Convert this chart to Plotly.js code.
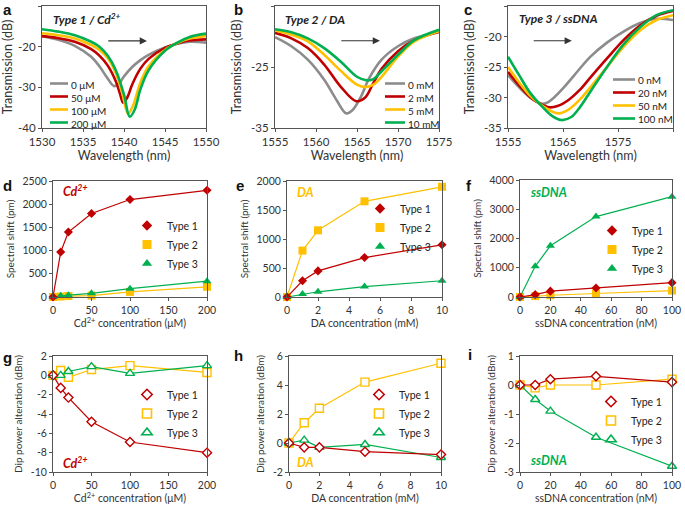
<!DOCTYPE html>
<html><head><meta charset="utf-8">
<script src="https://cdn.plot.ly/plotly-3.0.1.min.js"></script>
<style>html,body{margin:0;padding:0;background:#fff}#chart{width:685px;height:508px}</style>
</head><body><div id="chart"></div>
<script>
// ---------- Panel a: Type 1 / Cd2+ spectra ----------
const aLabels = ['0 μM', '50 μM', '100 μM', '200 μM'];
const aX0 = [1530,1532,1534,1536,1537,1538,1538.8,1539.5,1540,1541,1542,1543,1545,1546.5,1548,1550];
const aY0 = [-17.4,-18.3,-19.8,-22.5,-24.8,-27.8,-29.7,-28.8,-27.3,-25,-23.3,-22,-20.2,-19.3,-18.8,-19.0];
const aX1 = [1530,1532,1534,1536,1537,1538,1539,1539.5,1539.9,1540.4,1541,1542,1543,1545,1546.5,1548,1550];
const aY1 = [-17.4,-17.9,-18.8,-20.6,-22.2,-24.6,-28.5,-31.5,-33.8,-32.5,-29.3,-25.4,-23,-20.3,-19.2,-18.5,-18.2];
const aX2 = [1530,1532,1534,1536,1537,1538,1539,1539.8,1540.5,1541.1,1542,1543,1545,1546.5,1548,1550];
const aY2 = [-16.7,-17.2,-18,-19.6,-20.8,-22.8,-26.5,-31.5,-36.5,-34.5,-28.8,-24.8,-20.8,-19.1,-18,-17.4];
const aX3 = [1530,1532,1534,1536,1537,1538,1539,1540,1540.7,1541.3,1542,1543,1545,1546.5,1548,1550];
const aY3 = [-15.7,-16.3,-17.2,-18.8,-20,-22.2,-25.8,-31.8,-37.2,-35.5,-30.5,-25.8,-21,-19,-17.6,-16.8];

// ---------- Panel b: Type 2 / DA spectra ----------
const bLabels = ['0 mM', '2 mM', '5 mM', '10 mM'];
const bX0 = [1555,1557,1559,1561,1562.5,1563.7,1564.5,1565.5,1566.5,1568,1570,1572,1575];
const bY0 = [-20.1,-21.6,-23.8,-27.1,-30.4,-32.6,-32,-29.8,-26.8,-23.8,-21.6,-20.3,-19.3];
const bX1 = [1555,1557,1559,1561,1563,1564.9,1566,1567,1568,1570,1572,1575];
const bY1 = [-19.4,-20.3,-21.9,-24.6,-28.2,-30.6,-30,-27.6,-25.3,-22.4,-20.6,-19.2];
const bX2 = [1555,1557,1559,1561,1563,1565,1566,1567,1568,1570,1572,1575];
const bY2 = [-19,-19.7,-20.8,-23,-25.6,-27.9,-28.3,-27.9,-26.6,-23.3,-20.8,-19.1];
const bX3 = [1555,1557,1559,1561,1563,1565,1566.2,1567,1568,1570,1572,1575];
const bY3 = [-18.8,-19.3,-20.3,-21.9,-24.1,-26.6,-27.2,-27,-25.7,-23,-20.6,-18.9];

// ---------- Panel c: Type 3 / ssDNA spectra ----------
const cLabels = ['0 nM', '20 nM', '50 nM', '100 nM'];
const cX0 = [1555,1557,1559,1561,1562,1563,1565,1567,1570,1573,1576,1579,1582,1585];
const cY0 = [-26.3,-28.3,-30,-31,-30.9,-30.3,-28.5,-26.4,-23.3,-21,-19.2,-17.8,-17.1,-17.3];
const cX1 = [1555,1557,1559,1561,1562.5,1564,1566,1568,1570,1573,1576,1579,1582,1585];
const cY1 = [-25.8,-28,-29.9,-31.1,-31.6,-31.4,-30.4,-28.8,-26.7,-23.6,-20.6,-18.2,-16.6,-15.8];
const cX2 = [1555,1557,1559,1561,1563,1564.3,1566,1568,1570,1573,1576,1579,1582,1585];
const cY2 = [-25,-27.5,-29.7,-31.2,-32.3,-32.6,-32,-30.4,-28.3,-25,-21.7,-19,-17.3,-16.5];
const cX3 = [1555,1557,1559,1561,1563,1564.8,1566.5,1568,1570,1573,1576,1579,1582,1585];
const cY3 = [-23.3,-26.3,-29.2,-31.3,-33,-33.7,-33.2,-31.7,-29,-25,-21.3,-18.5,-16.5,-15.7];

// ---------- Panels d-i: concentrations ----------
const typeNames = ['Type 1', 'Type 2', 'Type 3'];
const cdConc = [0, 10, 20, 50, 100, 200];
const daConc = [0, 1, 2, 5, 10];
const dnaConc = [0, 10, 20, 50, 100];

// spectral shift (pm)
const dShift1 = [0, 970, 1400, 1800, 2100, 2300];
const dShift2 = [0, 10, 20, 30, 110, 220];
const dShift3 = [0, 25, 40, 80, 180, 340];
const eShift1 = [0, 280, 450, 680, 900];
const eShift2 = [0, 800, 1150, 1650, 1900];
const eShift3 = [0, 50, 90, 180, 280];
const fShift1 = [0, 80, 200, 310, 490];
const fShift2 = [0, 30, 60, 120, 220];
const fShift3 = [0, 1050, 1750, 2750, 3430];

// dip power alteration (dBm)
const gDip1 = [0, -1.3, -2.3, -4.8, -6.9, -8.0];
const gDip2 = [0, 0.5, -0.2, 0.6, 1.0, 0.3];
const gDip3 = [0, 0, 0.4, 0.9, 0.2, 1.0];
const hDip1 = [0, -0.3, -0.3, -0.6, -0.8];
const hDip2 = [0, 1.4, 2.4, 4.2, 5.5];
const hDip3 = [0, 0.2, -0.3, -0.1, -1.0];
const iDip1 = [0, 0, 0.2, 0.3, 0.1];
const iDip2 = [0, -0.1, 0, 0, 0.2];
const iDip3 = [0, -0.5, -0.9, -1.8, -2.8];

// ---------- styling ----------
const FONT = 'Lato, "Open Sans", sans-serif';
const specColors = ['#8C8C8C', '#C00000', '#FFC000', '#00B050'];
const typeColors = ['#C00000', '#FFC000', '#00B050'];
const typeSymbols = ['diamond', 'square', 'triangle-up'];
const typeSizes = [7, 8, 8];
const W = 685, H = 508;

// plot rectangles in pixels [left, right, top, bottom]
const boxes = {
  a: [42, 206, 6, 128], b: [275, 439, 6, 128], c: [508, 673, 6, 128],
  d: [53, 207, 181, 297], e: [287, 442, 181, 297], f: [520, 672, 180, 297],
  g: [53, 207, 356, 472], h: [289, 441, 356, 472], i: [520, 672, 356, 472]
};
const keys = ['a','b','c','d','e','f','g','h','i'];
const sfx = n => (n === 1 ? '' : String(n));
const xid = n => 'x' + sfx(n);
const yid = n => 'y' + sfx(n);

const traces = [];
const layout = {
  width: W, height: H, margin: {l: 0, r: 0, t: 0, b: 0},
  paper_bgcolor: '#fff', plot_bgcolor: '#fff',
  font: {family: FONT, size: 11, color: '#222'},
  showlegend: true, annotations: [], shapes: []
};

const axisSpec = {
  a: {x: [1530, 1550, 5], y: [-40, -10, 10], xt: 'Wavelength (nm)', yt: 'Transmission (dB)'},
  b: {x: [1555, 1575, 5], y: [-35, -15, 10], xt: 'Wavelength (nm)', yt: 'Transmission (dB)'},
  c: {x: [1555, 1585, 10], y: [-35, -15, 5], xt: 'Wavelength (nm)', yt: 'Transmission (dB)'},
  d: {x: [0, 200, 50], y: [0, 2500, 500], xt: 'Cd<sup>2+</sup> concentration (μM)', yt: 'Spectral shift (pm)'},
  e: {x: [0, 10, 2], y: [0, 2000, 500], xt: 'DA concentration (mM)', yt: 'Spectral shift (pm)'},
  f: {x: [0, 100, 20], y: [0, 4000, 1000], xt: 'ssDNA concentration (nM)', yt: 'Spectral shift (pm)'},
  g: {x: [0, 200, 50], y: [-10, 2, 2], xt: 'Cd<sup>2+</sup> concentration (μM)', yt: 'Dip power alteration (dBm)'},
  h: {x: [0, 10, 2], y: [-2, 6, 2], xt: 'DA concentration (mM)', yt: 'Dip power alteration (dBm)'},
  i: {x: [0, 100, 20], y: [-3, 1, 1], xt: 'ssDNA concentration (nM)', yt: 'Dip power alteration (dBm)'}
};

function tickList(lo, hi, step) {
  const v = [], t = [];
  for (let k = lo; k <= hi + 1e-9; k += step) { v.push(k); t.push(String(k)); }
  return {v, t};
}

keys.forEach((k, idx) => {
  const n = idx + 1;
  const bx = boxes[k], s = axisSpec[k];
  const top = idx < 3;
  const xtk = tickList(s.x[0], s.x[1], s.x[2]);
  const ytk = tickList(s.y[0], s.y[1], s.y[2]);
  const common = {showline: true, mirror: true, linecolor: '#555', linewidth: 1, showgrid: false,
    zeroline: false, ticks: 'outside', ticklen: 3, tickcolor: '#555', fixedrange: true};
  layout['xaxis' + sfx(n)] = Object.assign({}, common, {
    domain: [bx[0] / W, bx[1] / W], anchor: yid(n), range: [s.x[0], s.x[1]],
    tickmode: 'array', tickvals: xtk.v, ticktext: xtk.t,
    tickfont: {size: top ? 11.5 : 10.5, color: '#333'},
    title: {text: s.xt, font: {size: top ? 12.5 : 10.5, color: '#333'}, standoff: top ? 4 : 5}
  });
  layout['yaxis' + sfx(n)] = Object.assign({}, common, {
    domain: [1 - bx[3] / H, 1 - bx[2] / H], anchor: xid(n), range: [s.y[0], s.y[1]],
    tickmode: 'array', tickvals: ytk.v, ticktext: ytk.t,
    tickfont: {size: top ? 11.5 : 10.5, color: '#333'},
    title: {text: s.yt, font: {size: top ? 12.5 : 10, color: '#333'}, standoff: 6}
  });
});

// spectra traces
const spectra = [
  {n: 1, labels: aLabels, xs: [aX0, aX1, aX2, aX3], ys: [aY0, aY1, aY2, aY3]},
  {n: 2, labels: bLabels, xs: [bX0, bX1, bX2, bX3], ys: [bY0, bY1, bY2, bY3]},
  {n: 3, labels: cLabels, xs: [cX0, cX1, cX2, cX3], ys: [cY0, cY1, cY2, cY3]}
];
spectra.forEach(sp => {
  for (let j = 0; j < 4; j++) {
    traces.push({
      type: 'scatter', mode: 'lines', x: sp.xs[j], y: sp.ys[j], name: sp.labels[j],
      xaxis: xid(sp.n), yaxis: yid(sp.n), showlegend: false,
      line: {color: specColors[j], width: 2.6, shape: 'spline', smoothing: 1}
    });
  }
});

// spectra legends: one multi-line label block + line swatches aligned to its rows
const LEG_FONT = 10, LEG_LINE = LEG_FONT * 1.3;
const specLegendPos = [   // swatch x-range (px) and block centre y (px)
  {x0: 50, x1: 68, cy: 103},
  {x0: 385, x1: 405, cy: 103},
  {x0: 613, x1: 635, cy: 99}
];
spectra.forEach((sp, si) => {
  const p = specLegendPos[si];
  const bx = boxes[keys[si]];
  const toDx = px => (px - bx[0]) / (bx[1] - bx[0]);
  const toDy = py => 1 - (py - bx[2]) / (bx[3] - bx[2]);
  for (let j = 0; j < 4; j++) {
    const ry = p.cy + (j - 1.5) * LEG_LINE;
    layout.shapes.push({type: 'line', xref: xid(sp.n) + ' domain', yref: yid(sp.n) + ' domain',
      x0: toDx(p.x0), x1: toDx(p.x1), y0: toDy(ry), y1: toDy(ry), line: {color: specColors[j], width: 2.6}});
  }
  layout.annotations.push({xref: xid(sp.n) + ' domain', yref: yid(sp.n) + ' domain',
    x: toDx(p.x1 + 2), y: toDy(p.cy + 1), xanchor: 'left', yanchor: 'middle', align: 'left', showarrow: false,
    text: sp.labels.join('<br>'), font: {size: LEG_FONT, color: '#222'}, borderpad: 0});
});

// concentration series
const series = [
  {n: 4, x: cdConc, ys: [dShift1, dShift2, dShift3], open: false},
  {n: 5, x: daConc, ys: [eShift1, eShift2, eShift3], open: false},
  {n: 6, x: dnaConc, ys: [fShift1, fShift2, fShift3], open: false},
  {n: 7, x: cdConc, ys: [gDip1, gDip2, gDip3], open: true},
  {n: 8, x: daConc, ys: [hDip1, hDip2, hDip3], open: true},
  {n: 9, x: dnaConc, ys: [iDip1, iDip2, iDip3], open: true}
];
// legend anchor positions: [marker x px, first row y px]
const legPos = {4: [157, 225], 5: [390, 208], 6: [622, 230], 7: [157, 394], 8: [389, 394], 9: [621, 401]};
series.forEach(se => {
  const legName = 'legend' + (se.n === 4 ? '' : se.n);
  // draw order: Type 2, Type 3, Type 1 on top
  [1, 2, 0].forEach(j => {
    const mk = se.open
      ? {symbol: typeSymbols[j], size: typeSizes[j], color: '#fff', line: {color: typeColors[j], width: 1.4}}
      : {symbol: typeSymbols[j], size: typeSizes[j], color: typeColors[j], line: {width: 0}};
    traces.push({
      type: 'scatter', mode: 'lines+markers', x: se.x, y: se.ys[j], name: typeNames[j],
      xaxis: xid(se.n), yaxis: yid(se.n), showlegend: false, cliponaxis: false,
      line: {color: typeColors[j], width: 1.2}, marker: mk
    });
  });
  for (let j = 0; j < 3; j++) {
    const mk = se.open
      ? {symbol: typeSymbols[j], size: typeSizes[j] + 1, color: '#fff', line: {color: typeColors[j], width: 1.6}}
      : {symbol: typeSymbols[j], size: typeSizes[j] + 1, color: typeColors[j], line: {width: 0}};
    traces.push({
      type: 'scatter', mode: 'markers', x: [null], y: [null], name: typeNames[j],
      xaxis: xid(se.n), yaxis: yid(se.n), showlegend: true, legend: legName, marker: mk
    });
  }
  const lp = legPos[se.n];
  layout[legName] = {
    x: (lp[0] - 30) / W, y: 1 - (lp[1] - 14) / H, xanchor: 'left', yanchor: 'top',
    bgcolor: 'rgba(0,0,0,0)', borderwidth: 0, font: {size: 10.5, color: '#222'},
    itemclick: false, itemdoubleclick: false, tracegroupgap: 0
  };
});

// panel letters
const letterPos = {a: [7, 10], b: [239, 10], c: [468, 10], d: [7, 185], e: [240, 185], f: [469, 185], g: [7, 357], h: [239, 355], i: [470, 354]};
keys.forEach(k => {
  layout.annotations.push({xref: 'paper', yref: 'paper', x: letterPos[k][0] / W, y: 1 - letterPos[k][1] / H,
    xanchor: 'center', yanchor: 'middle', showarrow: false, text: '<b>' + k + '</b>',
    font: {family: 'Liberation Sans, Arial, sans-serif', size: 15, color: '#111'}});
});

// in-plot titles
const inTitles = [
  {n: 1, x: 0.055, y: 0.893, text: '<b><i>Type 1 / Cd<sup>2+</sup></i></b>', color: '#222', size: 12},
  {n: 2, x: 0.05, y: 0.893, text: '<b><i>Type 2 / DA</i></b>', color: '#222', size: 12},
  {n: 3, x: 0.055, y: 0.9, text: '<b><i>Type 3 / ssDNA</i></b>', color: '#222', size: 12},
  {n: 4, x: 0.052, y: 0.914, text: '<b><i>Cd<sup>2+</sup></i></b>', color: '#C00000', size: 12.5},
  {n: 5, x: 0.052, y: 0.905, text: '<b><i>DA</i></b>', color: '#FFC000', size: 12.5},
  {n: 6, x: 0.053, y: 0.897, text: '<b><i>ssDNA</i></b>', color: '#00B050', size: 12.5},
  {n: 7, x: 0.052, y: 0.086, text: '<b><i>Cd<sup>2+</sup></i></b>', color: '#C00000', size: 12.5},
  {n: 8, x: 0.04, y: 0.086, text: '<b><i>DA</i></b>', color: '#FFC000', size: 12.5},
  {n: 9, x: 0.053, y: 0.1, text: '<b><i>ssDNA</i></b>', color: '#00B050', size: 12.5}
];
inTitles.forEach(t => {
  layout.annotations.push({xref: xid(t.n) + ' domain', yref: yid(t.n) + ' domain', x: t.x, y: t.y,
    xanchor: 'left', yanchor: 'middle', showarrow: false, text: t.text, font: {size: t.size, color: t.color}});
});

// shift arrows (data coordinates)
const arrows = [
  {n: 1, x0: 1537.9, x1: 1542.8, y: -18.6},
  {n: 2, x0: 1562.9, x1: 1567.8, y: -20.7},
  {n: 3, x0: 1559.4, x1: 1566.6, y: -20.7}
];
arrows.forEach(a => {
  layout.annotations.push({xref: xid(a.n), yref: yid(a.n), axref: xid(a.n), ayref: yid(a.n),
    x: a.x1, y: a.y, ax: a.x0, ay: a.y, showarrow: true, arrowhead: 2, arrowsize: 1.2,
    arrowwidth: 1.2, arrowcolor: '#333', text: ''});
});

Plotly.newPlot('chart', traces, layout, {staticPlot: true, displayModeBar: false});
</script>
</body></html>
